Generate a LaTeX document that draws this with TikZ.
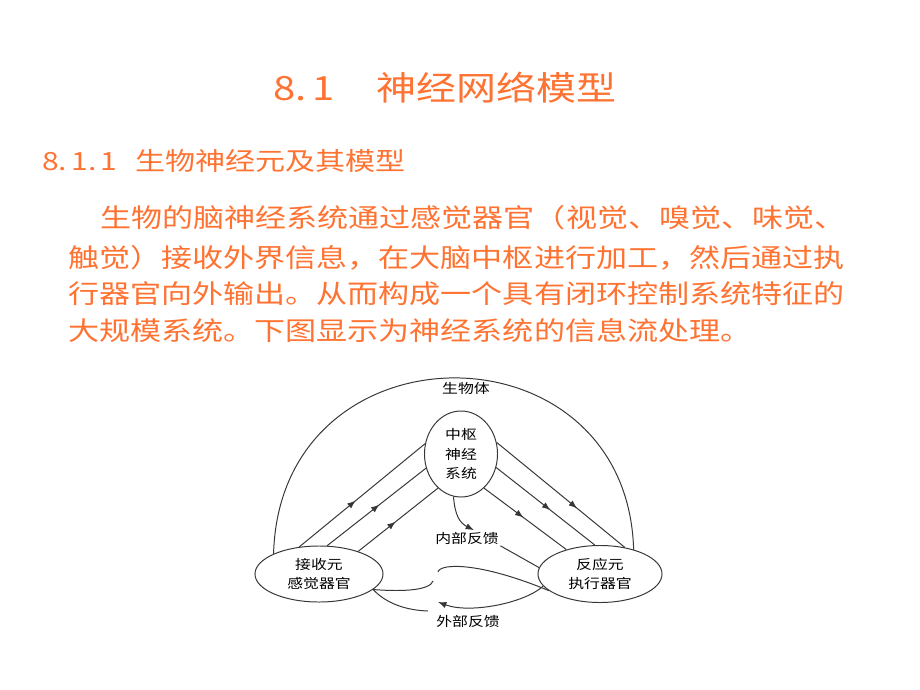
\documentclass[tikz,border=0pt]{standalone}
\usepackage{fontspec}
\usepackage{tikz}
\usetikzlibrary{shapes.geometric,arrows.meta,decorations.markings}
\newfontfamily\cjk[FakeStretch=1.2]{Noto Sans CJK SC}
\newcommand{\titlefont}{\cjk\fontsize{23.7pt}{28pt}\selectfont}
\newcommand{\subfont}{\cjk\fontsize{17.8pt}{22pt}\selectfont}
\newcommand{\bodyfont}{\cjk\fontsize{18.4pt}{26pt}\selectfont}
\newcommand{\diagfont}{\cjk\fontsize{9.4pt}{14pt}\selectfont}
\definecolor{slideorange}{RGB}{255,115,50}
\definecolor{linegray}{RGB}{55,55,55}
\tikzstyle{heading}  = [text=slideorange, inner sep=0pt, anchor=base west]
\tikzstyle{organ}    = [ellipse, draw=linegray, line width=0.7pt, inner sep=0pt, align=center, font=\diagfont]
\tikzstyle{flowtext} = [inner sep=1pt, font=\diagfont]
\tikzstyle{nerve}    = [draw=linegray, line width=0.7pt]
\tikzstyle{arrow}    = [nerve, -{Latex[length=6pt,width=4.5pt]}]
\tikzset{midarrow/.style={postaction={decorate},
    decoration={markings, mark=at position #1 with {\arrow{Latex[length=6pt,width=4.5pt]}}}}}

\begin{document}
\begin{tikzpicture}[x=0.025cm, y=-0.025cm]
        \useasboundingbox[fill=white] (0,0) rectangle (920,690);

        \node[heading, font=\titlefont] (title) at (273,101) {8.\,1\hspace{1.05cm}神经网络模型};
        \node[heading, font=\subfont] (sub) at (42,170) {8.\,1.\,1\hspace{0.45cm}生物神经元及其模型};
        \node[heading, font=\bodyfont] (line1) at (100,227) {生物的脑神经系统通过感觉器官（视觉、嗅觉、味觉、};
        \node[heading, font=\bodyfont] (line2) at (68,267) {触觉）接收外界信息，在大脑中枢进行加工，然后通过执};
        \node[heading, font=\bodyfont] (line3) at (68,303) {行器官向外输出。从而构成一个具有闭环控制系统特征的};
        \node[heading, font=\bodyfont] (line4) at (68,340) {大规模系统。下图显示为神经系统的信息流处理。};

        \node[organ, minimum width=3.2cm, minimum height=1.4cm] (recv) at (319,574) {接收元\\感觉器官};
        \node[organ, minimum width=1.825cm, minimum height=2.15cm] (cns) at (461,454) {中枢\\神经\\系统};
        \node[organ, minimum width=3.1cm, minimum height=1.425cm] (eff) at (600,574) {反应元\\执行器官};

        \node[flowtext] (body) at (466,388) {生物体};
        \node[flowtext] (inner) at (467,538) {内部反馈};
        \node[flowtext] (outer) at (468,621) {外部反馈};

        \coordinate (e1end) at (433,581);
        \coordinate (e2end) at (428,611);
        \coordinate (e3start) at (438,572);
        \coordinate (e4end) at (438,602);

        \draw[nerve] (recv.156) .. controls (280,320) and (627,320) .. (eff.36);

        \draw[nerve, midarrow=0.45] (recv.126) -- (cns.164);
        \draw[nerve, midarrow=0.53] (recv.74) -- (cns.202);
        \draw[nerve, midarrow=0.47] (recv.30) -- (cns.236);

        \draw[nerve, midarrow=0.63] (cns.18) -- (eff.47);
        \draw[nerve, midarrow=0.55] (cns.339) -- (eff.100);
        \draw[nerve, midarrow=0.48] (cns.304) -- (eff.144);

        \draw[arrow] (cns.260) .. controls (455,516) and (460,523) .. ([xshift=5pt]inner.north);
        \draw[nerve] (eff.174) -- (inner.south east);

        \draw[nerve] (recv.344) .. controls (405,592) and (430,590) .. (e1end);
        \draw[nerve] (recv.344) .. controls (383,600) and (400,610) .. (e2end);
        \draw[nerve] (e3start) .. controls (440,563) and (480,562) .. (eff.198);
        \draw[arrow] (eff.192) .. controls (525,603) and (470,614) .. (e4end);
    \end{tikzpicture}
\end{document}
